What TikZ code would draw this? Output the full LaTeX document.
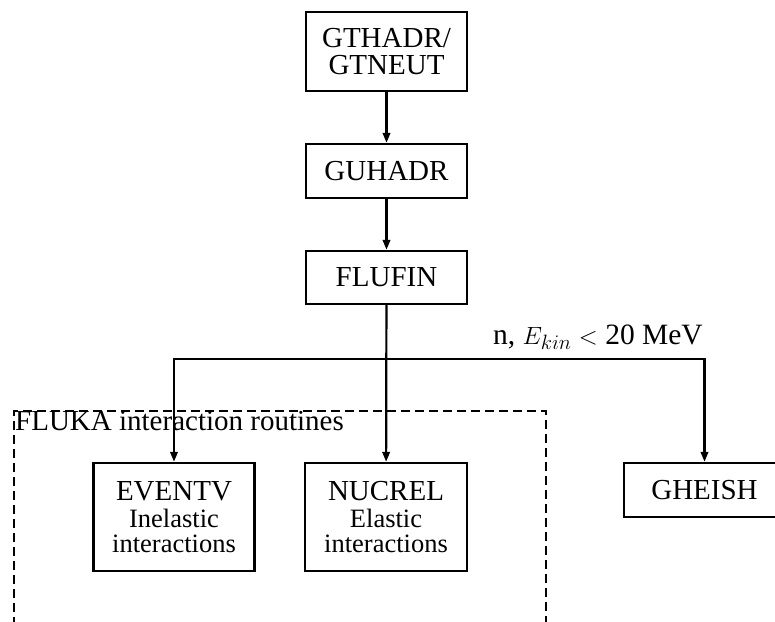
\documentclass[tikz,border=0pt]{standalone}
\usepackage{fontspec}
\setmainfont{Liberation Serif}
\usetikzlibrary{arrows.meta}
\begin{document}
\begin{tikzpicture}[x=1pt,y=-1pt,
  box/.style={draw,line width=2.4pt,minimum width=161pt,inner sep=0pt,align=center,
    font=\fontsize{29}{25}\selectfont},
  conn/.style={line width=2.2pt},
  arr/.style={conn,-{Triangle[length=10pt,width=7.5pt]}}]
\useasboundingbox (0,0) rectangle (775,621);
\clip (0,0) rectangle (775,621);
\node[box,minimum height=79pt] (g1) at (386.5,51.5) {GTHADR/\\[1.5pt]GTNEUT};
\node[box,minimum height=54pt] (g2) at (386.5,171) {GUHADR};
\node[box,minimum height=53pt] (g3) at (386.5,277.5) {FLUFIN};
\node[box,minimum height=108pt] (ev) at (174,517) {EVENTV\\[2pt]{\fontsize{26.5}{25}\selectfont Inelastic}\\{\fontsize{26.5}{25}\selectfont interactions}};
\node[box,minimum height=108pt,minimum width=162pt] (nu) at (386,517) {NUCREL\\[2pt]{\fontsize{26.5}{25}\selectfont Elastic}\\{\fontsize{26.5}{25}\selectfont interactions}};
\node[box,minimum height=54pt] (gh) at (704.5,490) {GHEISH};
\coordinate (split) at (386.5,359);
\draw[arr] (g1) -- (g2);
\draw[arr] (g2) -- (g3);
\draw[arr] (g3) -- (nu);
\draw[arr] (split) -| (ev);
\draw[arr] (split) -| (gh);
\node[anchor=base,inner sep=0pt,font=\fontsize{29.5}{30}\selectfont] (lbl) at (598,344) {n, $E_{kin}$ $<$ 20 MeV};
\draw[line width=2.2pt,dash pattern=on 9pt off 5pt] (14,640) -- (14,411) -- (546,411) -- (546,640);
\node[anchor=base west,inner sep=0pt,font=\fontsize{29}{30}\selectfont] (fl) at (15,430) {FLUKA interaction routines};
\end{tikzpicture}
\end{document}
